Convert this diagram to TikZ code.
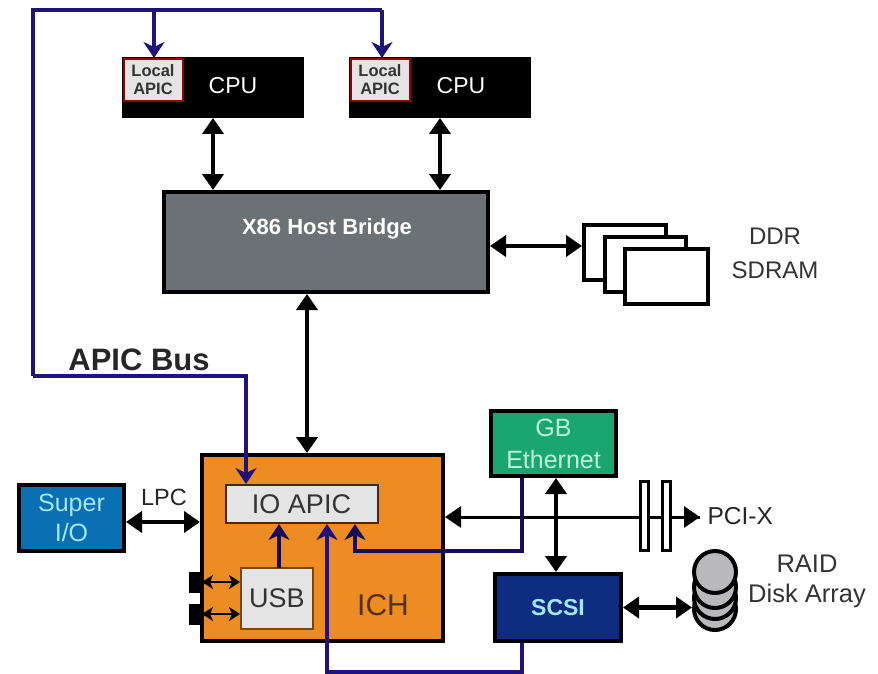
\documentclass[tikz,border=0pt]{standalone}
\usepackage{fontspec}
\setmainfont{Liberation Sans}
\usetikzlibrary{arrows.meta}
\definecolor{busblue}{RGB}{30, 18, 125}
\definecolor{ichorange}{RGB}{238, 140, 36}
\definecolor{bridgegray}{RGB}{108, 113, 118}
\definecolor{apicgray}{RGB}{228, 228, 228}
\definecolor{superblue}{RGB}{10, 112, 178}
\definecolor{supertext}{RGB}{165, 230, 250}
\definecolor{ethgreen}{RGB}{26, 166, 112}
\definecolor{ethtext}{RGB}{190, 245, 220}
\definecolor{scsinavy}{RGB}{14, 44, 128}
\definecolor{disk}{RGB}{185, 185, 188}
\tikzset{
    box/.style={draw=black, line width=4pt, inner sep=0pt, align=center},
    cpubox/.style={fill=black, minimum width=182pt, minimum height=61pt, inner sep=0pt, outer sep=0pt},
    lapicbox/.style={draw=red!60!black, fill=apicgray, line width=2pt, minimum width=59pt, minimum height=42pt, inner sep=0pt, align=center, font=\fontsize{16.5}{18}\selectfont\bfseries, text=black!80},
    portbox/.style={fill=black, minimum width=13pt, minimum height=21pt, inner sep=0pt, outer sep=0pt},
    slotbox/.style={draw=black, fill=white, line width=3pt, minimum width=8pt, minimum height=69pt, inner sep=0pt},
    diskbox/.style={draw=black, fill=disk, line width=4pt, circle, minimum size=42pt, inner sep=0pt},
    link/.style={line width=4.5pt, {Triangle[length=16pt,width=21pt]}-{Triangle[length=16pt,width=21pt]}},
    thinlink/.style={line width=2.5pt, {Stealth[length=11pt,width=14pt,inset=3pt]}-{Stealth[length=11pt,width=14pt,inset=3pt]}},
    bus/.style={draw=busblue, line width=4pt},
    busin/.style={bus, -{Stealth[length=16pt,width=21pt,inset=5pt]}},
}
\begin{document}
\begin{tikzpicture}[x=1pt, y=-1pt]
\useasboundingbox (0,0) rectangle (878,674);
% CPUs
\node[cpubox] (cpua) at (213,87.5) {};
\node[cpubox] (cpub) at (440,87.5) {};
\node[text=white, font=\fontsize{23}{25}\selectfont] (cpualabel) at (233,86) {CPU};
\node[text=white, font=\fontsize{23}{25}\selectfont] (cpublabel) at (461,86) {CPU};
\node[lapicbox] (lapica) at (153,80) {Local\\APIC};
\node[lapicbox] (lapicb) at (380,80) {Local\\APIC};
% Host bridge and memory
\node[box, fill=bridgegray, minimum width=324pt, minimum height=100pt] (bridge) at (326,242) {};
\node[text=white, font=\fontsize{22}{24}\selectfont\bfseries] (bridgelabel) at (327,229) {X86 Host Bridge};
\node[box, fill=white, minimum width=82pt, minimum height=55pt] (ddra) at (625,252.5) {};
\node[box, fill=white, minimum width=81pt, minimum height=55pt] (ddrb) at (645.5,264) {};
\node[box, fill=white, minimum width=83pt, minimum height=55pt] (ddrc) at (666.5,276) {};
\node[align=center, text=black!80, font=\fontsize{24}{34}\selectfont] (ddrlabel) at (775,253) {DDR\\SDRAM};
\node[font=\fontsize{31}{33}\selectfont\bfseries, text=black!85] (buslabel) at (139,360) {APIC Bus};
% ICH
\node[box, fill=ichorange, minimum width=241pt, minimum height=186pt] (ich) at (322.5,548) {};
\node[draw=black!70!ichorange, fill=apicgray, line width=2pt, minimum width=152pt, minimum height=38pt, inner sep=0pt, font=\fontsize{27}{29}\selectfont, text=black!80] (ioapic) at (301.5,504) {IO APIC};
\node[draw=black!50!ichorange, fill=apicgray, line width=2pt, minimum width=72pt, minimum height=61pt, inner sep=0pt, font=\fontsize{27}{29}\selectfont, text=black!80] (usb) at (277,598.5) {USB};
\node[text=black!65!ichorange, font=\fontsize{30}{32}\selectfont] (ichlabel) at (383,605) {ICH};
\node[portbox] (porta) at (195.5,582) {};
\node[portbox] (portb) at (195.5,614) {};
% Peripherals
\node[box, fill=superblue, text=supertext, minimum width=105pt, minimum height=66pt, font=\fontsize{25}{30}\selectfont, align=center] (superio) at (71.5,518) {Super\\I/O};
\node[font=\fontsize{23.5}{25}\selectfont, text=black!85] (lpc) at (164,497) {LPC};
\node[box, fill=ethgreen, text=ethtext, minimum width=125pt, minimum height=65pt, font=\fontsize{25}{32}\selectfont, align=center] (eth) at (553.5,443.5) {GB\\Ethernet};
\node[box, fill=scsinavy, text=supertext, minimum width=126pt, minimum height=67pt, font=\fontsize{23}{25}\selectfont\bfseries] (scsi) at (558,607.5) {SCSI};
\coordinate (pciend) at (700,517);
\node[anchor=west, font=\fontsize{24.5}{26}\selectfont, text=black!85] (pcilabel) at (704,516) {PCI-X};
% Disk stack
\foreach \y/\name in {609/diskd, 598/diskc, 587/diskb, 572/diska} {
    \node[diskbox] (\name) at (715,\y) {};
}
\node[align=center, text=black!80, font=\fontsize{25.5}{30}\selectfont] (raid) at (807,581) {RAID\\Disk Array};
% Black connectors
\coordinate (ddrin) at (582,246);
\coordinate (ichin) at (307,453);
\coordinate (lpcline) at (0,522);
\coordinate (pciline) at (0,517);
\coordinate (ethline) at (556,0);
\draw[link] (cpua.south) -- (cpua.south |- bridge.north);
\draw[link] (cpub.south) -- (cpub.south |- bridge.north);
\draw[link] (bridge.east |- ddrin) -- (ddrin);
\draw[link] (bridge.south -| ichin) -- (ichin);
\draw[link] (superio.east |- lpcline) -- (ich.west |- lpcline);
\draw[link] (eth.south -| ethline) -- (scsi.north -| ethline);
\draw[link] (scsi.east) -- (scsi.east -| diskc.west);
\draw[line width=3pt, -{Triangle[length=16pt,width=21pt]}] (pciend |- pciline) -- (ich.east |- pciline);
\draw[line width=3pt, -{Triangle[length=16pt,width=21pt]}] (650,517) -- (pciend);
\node[slotbox] (slota) at (644.5,516) {};
\node[slotbox] (slotb) at (666,516) {};
\draw[thinlink] (porta.east) -- (usb.west |- porta.east);
\draw[thinlink] (portb.east) -- (usb.west |- portb.east);
% APIC bus
\coordinate (busin) at (246,484);
\coordinate (buscorner) at (33,376);
\coordinate (businta) at (154,58);
\coordinate (bustop) at (382,58);
\coordinate (bustopy) at (0,10);
\coordinate (usbout) at (279,568);
\coordinate (ethout) at (522,478);
\coordinate (scsiout) at (522,643);
\draw[busin] (buscorner) -| (busin);
\draw[bus, line join=miter] (buscorner) |- (bustop |- bustopy);
\draw[busin] (businta |- bustopy) -- (businta);
\draw[busin] (bustop |- bustopy) -- (bustop);
\draw[busin, draw=black!30!busblue] (usbout) -- (usbout |- ioapic.south);
\draw[busin, draw=black!30!busblue] (ethout) |- (355,551) -- (355,524);
\draw[busin] (scsiout) |- (327,672) -- (327,524);
\end{tikzpicture}
\end{document}
